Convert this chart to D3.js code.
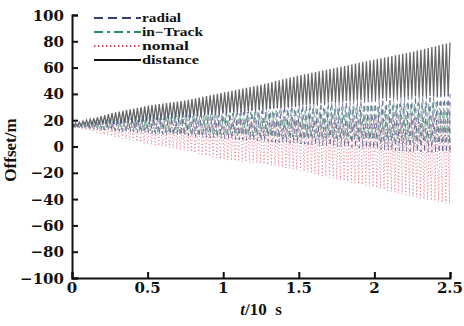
<!DOCTYPE html>
<html>
<head>
<meta charset="utf-8">
<script src="https://cdn.jsdelivr.net/npm/d3@7"></script>
<style>
  body { margin: 0; background: #fff; }
  text { font-family: "Liberation Serif", "DejaVu Serif", serif; font-weight: bold; fill: #111; }
  .tick-label { font-family: "DejaVu Serif", serif; font-size: 15px; }
</style>
</head>
<body>
<svg id="chart" width="464" height="326"></svg>
<script>
// envelope samples (t in units of 10 s, offset in m)
const tSamples = [0, 0.25, 0.5, 0.75, 1, 1.25, 1.5, 1.75, 2, 2.25, 2.5];
const distanceHi = [17, 25, 31, 35, 41, 47, 54, 60, 66, 72, 79];
const distanceLo = [15, 17, 19, 22, 25, 28, 31, 34, 36, 38, 39];
const radialHi   = [17, 21, 24, 26, 28, 30, 32, 34, 36, 38, 40];
const radialLo   = [15, 12, 10, 8, 6, 4, 2, 0, -2, -4, -5];
const inTrackHi  = [17, 20, 22, 24, 25, 27, 28, 30, 31, 33, 34];
const inTrackLo  = [15, 13, 11, 10, 9, 8, 7, 6, 5, 4, 3];
const normalHi   = [17, 18, 19, 20, 20, 20, 21, 21, 22, 22, 22];
const normalLo   = [15, 8, 2, -3, -10, -13, -18, -25, -31, -38, -44];
const cycles = 104;

const xTicks = [0, 0.5, 1, 1.5, 2, 2.5];
const yTicks = [-100, -80, -60, -40, -20, 0, 20, 40, 60, 80, 100];
const legendNames = ["radial", "in\u2212Track", "nomal", "distance"];

const svg = d3.select("#chart");
const plotLeft = 72, plotRight = 450, plotTop = 15, plotBottom = 278;

const x = d3.scaleLinear().domain([0, 2.5]).range([plotLeft, plotRight]);
const y = d3.scaleLinear().domain([-100, 100]).range([plotBottom, plotTop]);

// turn envelopes into an oscillating trace, one peak and one trough per cycle
function trace(hi, lo, phase) {
  const hiS = d3.scaleLinear().domain(tSamples).range(hi);
  const loS = d3.scaleLinear().domain(tSamples).range(lo);
  const step = 2.5 / cycles / 2;
  const pts = [];
  for (let k = 0; k <= cycles * 2; k++) {
    const t = Math.min(2.5, Math.max(0, (k + phase) * step));
    pts.push([t, k % 2 === 0 ? hiS(t) : loS(t)]);
  }
  return pts;
}

const line = d3.line().x(d => x(d[0])).y(d => y(d[1]));

const series = [
  { pts: trace(distanceHi, distanceLo, 0),    color: "#333",    dash: null,        w: 1.3, op: 0.75 },
  { pts: trace(normalHi, normalLo, 0.7),      color: "#d8607a", dash: "1.2,2.2",   w: 1,   op: 0.7 },
  { pts: trace(inTrackHi, inTrackLo, 0.35),   color: "#3c8c74", dash: "6,3,1.5,3", w: 1,   op: 0.7 },
  { pts: trace(radialHi, radialLo, 1),        color: "#4a4f80", dash: "5,4",       w: 1,   op: 0.7 }
];

series.forEach(s => {
  svg.append("path")
    .attr("d", line(s.pts))
    .attr("fill", "none")
    .attr("stroke", s.color)
    .attr("stroke-width", s.w)
    .attr("stroke-opacity", s.op)
    .attr("stroke-dasharray", s.dash);
});

// axes
const yAxis = svg.append("g")
  .attr("transform", "translate(" + plotLeft + ",0)")
  .call(d3.axisRight(y).tickValues(yTicks).tickSize(6).tickFormat(""));
const xAxis = svg.append("g")
  .attr("transform", "translate(0," + plotBottom + ")")
  .call(d3.axisTop(x).tickValues(xTicks).tickSize(6).tickFormat(""));
[yAxis, xAxis].forEach(a => {
  a.select(".domain").attr("stroke", "#111").attr("stroke-width", 2);
  a.selectAll(".tick line").attr("stroke", "#111").attr("stroke-width", 2);
});

svg.append("g").selectAll("text")
  .data(yTicks)
  .enter()
  .append("text")
  .attr("class", "tick-label")
  .attr("x", 64)
  .attr("y", d => y(d) + 5.5)
  .attr("text-anchor", "end")
  .text(d => d < 0 ? "\u2212" + Math.abs(d) : d);

svg.append("g").selectAll("text")
  .data(xTicks)
  .enter()
  .append("text")
  .attr("class", "tick-label")
  .attr("x", d => x(d))
  .attr("y", 293)
  .attr("text-anchor", "middle")
  .text(d => d);

// axis titles
const xLabel = svg.append("text")
  .attr("x", 261)
  .attr("y", 315)
  .attr("text-anchor", "middle")
  .style("font-size", "17px");
xLabel.append("tspan").style("font-style", "italic").text("t");
xLabel.append("tspan").text("/10\u00a0\u00a0s");

svg.append("text")
  .attr("transform", "translate(16,150) rotate(-90)")
  .attr("text-anchor", "middle")
  .style("font-size", "17px")
  .text("Offset/m");

// legend
const legendY = [18, 32, 46, 60];
const legendWidths = [39, 61, 47, 57];
const legendStyle = [
  { color: "#3a3f78", dash: "9,5" },
  { color: "#2a8c6e", dash: "9,4,3,4" },
  { color: "#d2506a", dash: "1.5,2.5" },
  { color: "#111",    dash: null }
];
const legend = svg.append("g");
legendNames.forEach((name, i) => {
  legend.append("line")
    .attr("x1", 94).attr("x2", 141)
    .attr("y1", legendY[i]).attr("y2", legendY[i])
    .attr("stroke", legendStyle[i].color)
    .attr("stroke-width", 2)
    .attr("stroke-dasharray", legendStyle[i].dash);
  legend.append("text")
    .attr("x", 142)
    .attr("y", legendY[i] + 4)
    .attr("textLength", legendWidths[i])
    .attr("lengthAdjust", "spacingAndGlyphs")
    .style("font-size", "12px")
    .text(name);
});
</script>
</body>
</html>
